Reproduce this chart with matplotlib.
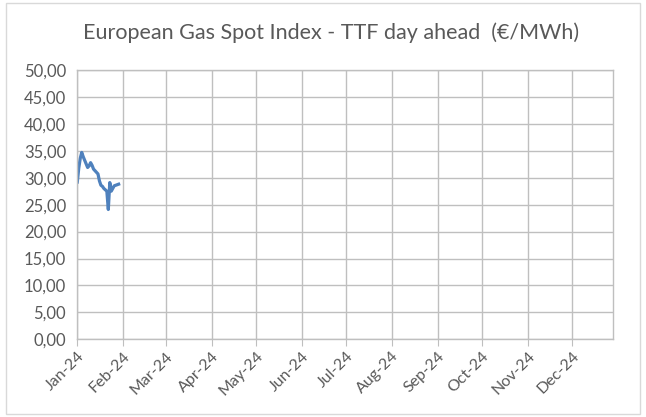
import matplotlib
matplotlib.use("Agg")
import matplotlib.pyplot as plt
import matplotlib.dates as mdates
from matplotlib.ticker import FuncFormatter, MultipleLocator
from matplotlib.patches import Rectangle
import datetime as dt

# Data (TTF day ahead, €/MWh, January 2024)
dates = ["2024-01-01", "2024-01-02", "2024-01-03", "2024-01-04", "2024-01-05",
         "2024-01-08", "2024-01-09", "2024-01-10", "2024-01-11", "2024-01-12",
         "2024-01-15", "2024-01-16", "2024-01-17", "2024-01-18", "2024-01-19",
         "2024-01-21", "2024-01-22", "2024-01-23", "2024-01-24", "2024-01-25",
         "2024-01-26", "2024-01-29"]
values = [29.2, 31.8, 33.6, 34.7, 33.9,
          31.9, 32.2, 32.8, 32.3, 31.6,
          30.7, 29.4, 28.6, 28.4, 28.0,
          27.5, 24.1, 29.1, 27.5, 28.0,
          28.5, 28.8]
month_ticks = [dt.date(2024, m, 1) for m in range(1, 13)]
title = "European Gas Spot Index - TTF day ahead  (€/MWh)"

plt.rcParams['font.family'] = ['Lato', 'DejaVu Sans']

fig = plt.figure(figsize=(6.46, 4.17), dpi=100)
ax = fig.add_axes([77.3 / 646, 1 - 339.3 / 417, (613.3 - 77.3) / 646, (339.3 - 70) / 417])

x = [dt.datetime.strptime(d, "%Y-%m-%d").date() for d in dates]
ax.plot(x, values, color="#4f81bd", lw=2.3, solid_joinstyle="round")

ax.set_ylim(0, 50)
ax.set_xlim(dt.date(2024, 1, 1), dt.date(2024, 12, 29))
ax.yaxis.set_major_locator(MultipleLocator(5))
ax.yaxis.set_major_formatter(FuncFormatter(lambda v, p: f"{v:.2f}".replace(".", ",")))
ax.set_xticks(month_ticks)
ax.xaxis.set_major_formatter(mdates.DateFormatter("%b-%y"))

grid_c = "#bfbfbf"
ax.grid(True, color=grid_c, lw=1.0)
ax.set_axisbelow(True)
for s in ax.spines.values():
    s.set_color(grid_c)
    s.set_linewidth(1.0)

ax.tick_params(axis="y", length=0, labelsize=12, labelcolor="#595959", pad=8)
ax.tick_params(axis="x", length=5, color=grid_c, labelsize=11.5, labelcolor="#595959", pad=2)
for lbl in ax.get_xticklabels():
    lbl.set_rotation(45)
    lbl.set_ha("right")
    lbl.set_rotation_mode("anchor")

fig.text(0.513, 1 - 33 / 417, title, ha="center", va="center", fontsize=15.5, color="#595959")

fig.patches.append(Rectangle((6 / 646, 1 - 414 / 417), 634 / 646, 411 / 417,
                             transform=fig.transFigure, fill=False,
                             edgecolor="#d9d9d9", lw=1.0))

fig.savefig("out.png", dpi=100)
